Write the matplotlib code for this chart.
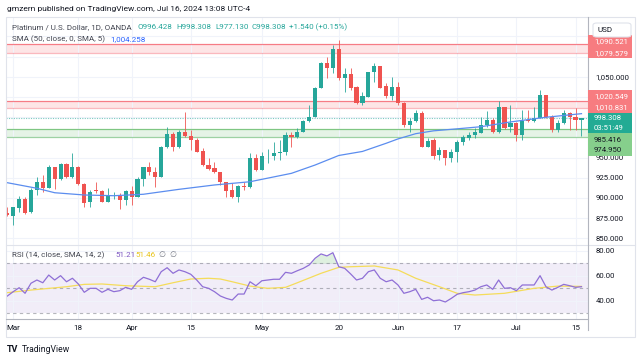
import numpy as np
import pandas as pd
import matplotlib.pyplot as plt
from matplotlib.patches import Rectangle, FancyBboxPatch
from matplotlib.lines import Line2D
from matplotlib.ticker import FuncFormatter

plt.rcParams['font.family'] = ['Roboto', 'DejaVu Sans']

# trading days, Good Friday has no bar
days = pd.bdate_range('2024-02-29', '2024-07-16')
days = days[days != pd.Timestamp('2024-03-29')]

opens = [881.7, 877.6, 887.1, 898.6, 882.2, 909.8, 920.0, 912.6, 937.9, 923.4,
         942.0, 926.2, 938.6, 916.8, 895.3, 909.0, 908.5, 895.3, 902.0, 902.4,
         897.4, 908.9, 901.5, 923.4, 938.6, 932.4, 925.5, 962.6, 979.1, 962.6,
         981.9, 976.6, 971.7, 958.4, 940.7, 937.4, 931.7, 919.3, 909.8, 900.7,
         915.1, 913.1, 949.0, 934.5, 951.5, 951.9, 955.5, 956.8, 977.8, 975.7,
         981.9, 995.2, 999.8, 1036.4, 1067.3, 1060.4, 1084.3, 1048.8, 1053.0, 1037.6,
         1017.1, 1025.2, 1055.4, 1063.2, 1038.9, 1026.5, 1036.9, 1017.1, 990.2, 995.5,
         1004.7, 963.4, 971.7, 953.1, 959.3, 949.0, 957.2, 969.6, 973.8, 977.8,
         979.9, 990.2, 996.4, 981.9, 1012.1, 988.1, 993.1, 977.8, 996.4, 995.5,
         998.5, 1027.3, 999.8, 984.0, 992.3, 1004.7, 1000.5, 996.428]
highs = [889.1, 889.1, 902.4, 900.5, 912.3, 925.9, 928.3, 940.7, 938.6, 943.5,
         943.5, 955.2, 940.0, 918.4, 909.8, 920.0, 909.5, 912.6, 907.7, 905.7,
         909.8, 914.7, 925.9, 938.6, 944.8, 938.6, 964.0, 988.1, 981.9, 983.5,
         1006.7, 984.0, 973.8, 961.4, 949.0, 944.8, 932.5, 920.0, 918.1, 916.0,
         920.0, 955.2, 954.0, 957.2, 960.1, 969.6, 971.7, 981.9, 981.9, 986.1,
         996.4, 1015.0, 1037.6, 1068.8, 1074.7, 1089.2, 1095.4, 1060.4, 1060.4, 1038.5,
         1031.4, 1056.0, 1066.6, 1063.5, 1042.0, 1049.3, 1043.8, 1019.1, 998.5, 1008.8,
         1007.9, 973.8, 973.8, 963.4, 959.5, 961.0, 971.7, 977.8, 981.5, 986.0,
         1000.5, 1007.9, 998.5, 1020.3, 1012.9, 1015.0, 994.3, 1008.8, 1008.8, 1012.9,
         1033.5, 1027.5, 1002.0, 996.4, 1008.8, 1006.7, 1010.9, 998.308]
lows = [877.6, 866.5, 882.9, 880.5, 881.3, 903.6, 907.7, 912.0, 911.0, 922.0,
        925.0, 924.3, 915.5, 889.1, 889.1, 906.4, 894.6, 894.6, 898.3, 886.0,
        891.2, 891.2, 901.5, 915.1, 928.3, 913.9, 925.5, 961.4, 958.4, 961.4,
        975.0, 959.3, 956.5, 939.5, 934.5, 930.4, 916.0, 900.7, 900.0, 895.3,
        909.8, 911.9, 933.8, 934.5, 942.8, 946.9, 946.9, 953.1, 963.4, 973.8,
        981.9, 994.3, 999.8, 1036.4, 1048.0, 1054.2, 1045.9, 1031.4, 1033.5, 1016.5,
        1015.0, 1025.2, 1043.8, 1035.6, 1023.2, 1021.2, 1015.0, 988.1, 981.9, 994.3,
        962.5, 962.6, 948.0, 946.9, 940.7, 944.8, 944.8, 966.0, 971.7, 974.0,
        979.9, 988.1, 980.7, 980.7, 985.0, 981.9, 970.4, 971.7, 994.3, 994.3,
        998.5, 998.5, 981.9, 981.9, 991.5, 984.0, 984.0, 977.130]
closes = [878.5, 888.4, 898.6, 881.7, 909.8, 920.0, 912.6, 937.9, 923.4, 942.0,
          926.2, 938.6, 916.8, 894.1, 907.7, 908.5, 895.3, 902.4, 902.4, 897.4,
          908.9, 901.5, 923.4, 938.6, 932.4, 925.5, 962.6, 979.1, 962.6, 981.9,
          976.6, 971.7, 957.2, 940.7, 935.8, 931.7, 919.3, 908.9, 900.7, 915.1,
          913.1, 949.0, 934.5, 951.9, 951.9, 955.2, 956.8, 977.8, 975.7, 981.9,
          995.2, 999.8, 1036.4, 1067.3, 1060.4, 1084.3, 1048.8, 1053.0, 1036.4, 1017.1,
          1026.1, 1055.4, 1063.2, 1036.4, 1026.5, 1036.9, 1017.1, 990.2, 995.5, 1004.7,
          963.4, 970.8, 951.9, 959.3, 949.0, 957.2, 969.6, 975.7, 977.8, 981.9,
          990.2, 996.4, 981.9, 1012.1, 986.1, 992.3, 977.8, 995.2, 995.5, 998.5,
          1027.3, 999.8, 984.0, 992.3, 1004.7, 1000.5, 996.768, 998.308]

sma_idx = [0, 5, 8, 13, 18, 23, 29, 35, 41, 48, 52, 56, 60, 64, 66, 69, 72, 76, 80, 85, 91, 97]
sma_val = [918.8, 911.9, 906.4, 903.6, 902.7, 904.5, 910.6, 916.0, 920.0, 930.4, 940.7,
           952.5, 957.5, 967.6, 973.0, 979.5, 983.0, 985.5, 988.1, 994.0, 999.8, 1004.258]

rsi = [43.7, 47.2, 50.4, 45.9, 54.0, 56.6, 54.4, 60.6, 56.6, 60.1,
       55.2, 58.0, 53.4, 46.7, 49.9, 49.9, 46.7, 49.1, 47.2, 48.0,
       50.7, 49.1, 55.2, 58.8, 57.2, 55.2, 63.3, 66.5, 62.0, 64.7,
       63.3, 61.2, 56.6, 51.2, 49.9, 47.2, 43.7, 41.8, 40.5, 45.3,
       45.3, 55.2, 52.0, 56.0, 56.6, 57.2, 57.2, 62.8, 62.0, 64.1,
       66.0, 68.7, 74.1, 77.6, 76.0, 78.6, 67.3, 66.0, 61.5, 56.6,
       58.0, 63.3, 64.7, 58.0, 55.2, 56.6, 52.6, 45.9, 47.2, 49.1,
       41.0, 42.7, 39.9, 40.5, 38.9, 41.8, 45.1, 46.4, 47.2, 48.5,
       51.2, 52.6, 49.1, 56.6, 49.9, 50.4, 48.0, 52.6, 52.6, 52.6,
       60.1, 51.2, 48.5, 50.7, 53.1, 52.0, 50.7, 51.21]
rsi_sma_idx = [0, 4, 10, 13, 16, 20, 25, 28, 31, 34, 36, 38, 41, 44, 47, 49, 53, 56,
               58, 62, 66, 69, 73, 76, 79, 84, 89, 93, 97]
rsi_sma_val = [46.4, 48.5, 51.2, 53.1, 53.4, 52.0, 51.2, 54.4, 57.4, 58.0, 57.4, 55.2,
               51.7, 49.9, 50.7, 54.4, 62.0, 66.8, 67.3, 67.9, 64.7, 58.0, 51.2, 45.9,
               44.5, 45.9, 49.9, 51.7, 51.46]

# horizontal zones drawn by the author
red_zones = [(1079.579, 1090.521), (1010.831, 1020.549)]
green_zones = [(974.950, 985.416)]
last_price = 998.308
sma_last = 1004.258

tick_days = ['2024-03-01', '2024-03-18', '2024-04-01', '2024-04-15', '2024-05-01',
             '2024-05-20', '2024-06-03', '2024-06-17', '2024-07-01', '2024-07-15']
tick_labels = ['Mar', '18', 'Apr', '15', 'May', '20', 'Jun', '17', 'Jul', '15']

W, H = 643, 361
fig = plt.figure(figsize=(W / 100, H / 100), dpi=100)

def rect(x0, y0, x1, y1):
    return [x0 / W, 1 - y1 / H, (x1 - x0) / W, (y1 - y0) / H]

def fline(xs, ys, **kw):
    fig.add_artist(Line2D([v / W for v in xs], [1 - v / H for v in ys], **kw))

def ftext(x, y, s, **kw):
    kw.setdefault('fontsize', 5.8)
    kw.setdefault('va', 'center')
    fig.text(x / W, 1 - y / H, s, **kw)

GRID = '#f0f3fa'
TXT = '#131722'
UP, DN = '#26a69a', '#ef5350'

ax = fig.add_axes(rect(6, 17, 588, 245))
rx = fig.add_axes(rect(6, 245, 588, 319), sharex=ax)

x = np.arange(len(closes))
o, h, l, c = map(np.array, (opens, highs, lows, closes))
col = np.where(c >= o, UP, DN)

for lo, hi in red_zones:
    ax.axhspan(lo, hi, color='#f23645', alpha=0.13, lw=0, zorder=1)
    ax.axhline(hi, color='#f23645', alpha=0.6, lw=0.9, zorder=2)
    ax.axhline(lo, color='#f23645', alpha=0.35, lw=0.9, zorder=2)
for lo, hi in green_zones:
    ax.axhspan(lo, hi, color='#4caf50', alpha=0.14, lw=0, zorder=1)
    ax.axhline(hi, color='#66bb6a', alpha=0.8, lw=0.9, zorder=2)
    ax.axhline(lo, color='#66bb6a', alpha=0.6, lw=0.9, zorder=2)
ax.axhline(last_price, color=UP, ls=(0, (1, 1.2)), lw=0.8, alpha=0.6, zorder=2)

ax.vlines(x, l, h, colors=col, lw=0.7, alpha=0.85, zorder=3)
ax.bar(x, np.maximum(np.abs(c - o), 0.7), bottom=np.minimum(o, c), width=0.7,
       color=col, lw=0, zorder=4)
ax.plot(sma_idx, sma_val, color='#5b8def', lw=0.9, zorder=5)

ax.set_xlim(-0.22, 98.1)
ax.set_ylim(841.7, 1123.9)
ax.set_yticks(np.arange(850, 1101, 25))
ax.yaxis.tick_right()
ax.yaxis.set_major_formatter(FuncFormatter(
    lambda v, p: f'{v:,.3f}' if v <= 950 or v == 1050 else ''))
ax.tick_params(axis='y', length=0, labelsize=5.6, colors=TXT, pad=5.5)
ax.tick_params(axis='x', length=0, labelbottom=False)
tpos = [days.get_loc(pd.Timestamp(d)) for d in tick_days]
ax.set_xticks(tpos)
ax.grid(color=GRID, lw=0.8, zorder=0)
for s in ax.spines.values():
    s.set_visible(False)

# RSI pane
r = np.array(rsi)
rx.axhspan(30, 70, color='#7e57c2', alpha=0.1, lw=0, zorder=1)
for lvl in (70, 50, 30):
    rx.axhline(lvl, color='#787b86', alpha=0.55, lw=0.8, ls=(0, (3, 3)), zorder=2)
rx.fill_between(x, 70, r, where=r > 70, interpolate=True, color='#4caf50', alpha=0.18, lw=0)
rx.plot(rsi_sma_idx, rsi_sma_val, color='#f5dc5a', lw=0.9, zorder=3)
rx.plot(x, r, color='#8f6fd6', lw=0.9, zorder=4)
rx.set_ylim(25.2, 84.8)
rx.set_yticks([40, 60, 80])
rx.yaxis.tick_right()
rx.yaxis.set_major_formatter(FuncFormatter(lambda v, p: f'{v:.2f}'))
rx.tick_params(axis='y', length=0, labelsize=5.6, colors=TXT, pad=5.5)
rx.set_xticks(tpos)
rx.set_xticklabels(tick_labels)
rx.tick_params(axis='x', length=0, labelsize=5.8, colors=TXT, pad=4)
rx.grid(color=GRID, lw=0.8, zorder=0)
for s in rx.spines.values():
    s.set_visible(False)

# frame and separators
fig.add_artist(Rectangle((6 / W, 1 - 337 / H), 629 / W, 320 / H, fill=False,
                         ec='#e0e3eb', lw=0.8))
fline([6, 635], [245, 245], color='#e0e3eb', lw=0.8)
fline([6, 588], [319, 319], color='#b2b5be', lw=0.8)
fline([588, 588], [17, 330], color='#b2b5be', lw=0.8)

# price tags on the scale
def tag(y0, y1, fc, rows, tc):
    fig.add_artist(Rectangle((588 / W, 1 - y1 / H), 44 / W, (y1 - y0) / H,
                             fc=fc, ec='none', zorder=5))
    for ty, s in rows:
        ftext(594, ty, s, color=tc, fontsize=5.6, zorder=6)

tag(35.5, 47, '#f77c80', [(41, f'{red_zones[0][1]:,.3f}')], 'white')
tag(47.3, 58.3, '#f77c80', [(52.8, f'{red_zones[0][0]:,.3f}')], 'white')
tag(90.5, 101.5, '#f77c80', [(96, f'{red_zones[1][1]:,.3f}')], 'white')
tag(101.8, 112.8, '#f77c80', [(107.3, f'{red_zones[1][0]:,.3f}')], 'white')
tag(113, 133, '#22ab94', [(118.5, f'{last_price:,.3f}'), (128, '03:51:49')], 'white')
tag(133.3, 156.3, '#86cf8c', [(139.5, f'{green_zones[0][1]:,.3f}'),
                              (150.5, f'{green_zones[0][0]:,.3f}')], TXT)

fig.add_artist(FancyBboxPatch((593 / W, 1 - 37 / H), 38 / W, 14 / H,
                              boxstyle='round,pad=0,rounding_size=0.006',
                              fc='white', ec='#e0e3eb', lw=0.8, zorder=7))
ftext(598, 30, 'USD', color=TXT, zorder=8)

# header texts
ftext(7, 9, 'gmzern published on TradingView.com, Jul 16, 2024 13:08 UTC-4', color=TXT, fontsize=6)
ftext(12.5, 27, 'Platinum / U.S. Dollar, 1D, OANDA', color='#434651')
ftext(137, 27, f'O{opens[-1]:.3f}', color=UP)
ftext(176, 27, f'H{highs[-1]:.3f}', color=UP)
ftext(215, 27, f'L{lows[-1]:.3f}', color=UP)
ftext(251.5, 27, f'C{closes[-1]:.3f}', color=UP)
ftext(289, 27, '+1.540 (+0.15%)', color=UP)
ftext(12.5, 39, 'SMA (50, close, 0, SMA, 5)', color='#434651')
ftext(110, 39, f'{sma_last:,.3f}', color='#2962ff')
ftext(12.5, 255, 'RSI (14, close, SMA, 14, 2)', color='#434651')
ftext(115, 255, f'{rsi[-1]:.2f}', color='#7e57c2')
ftext(135, 255, f'{rsi_sma_val[-1]:.2f}', color='#e8c41c')
ftext(159, 255, '∅  ∅', color='#787b86')

# footer logo
ftext(7, 349, 'TV', color=TXT, fontsize=6.5, fontweight='bold')
ftext(22, 349, 'TradingView', color=TXT, fontsize=6.2)

fig.savefig('out.png', dpi=100)
